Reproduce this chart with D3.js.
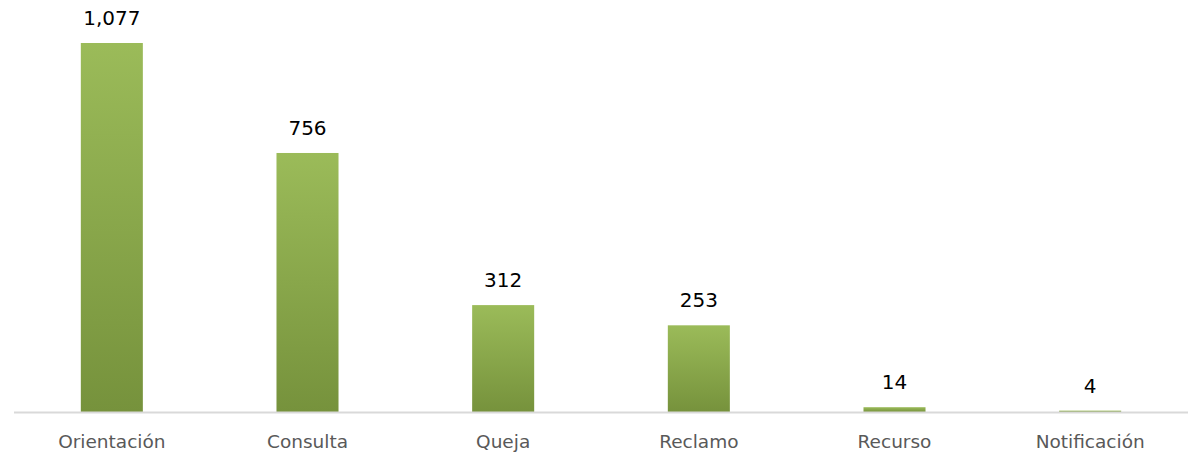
<!DOCTYPE html>
<html>
<head>
<meta charset="utf-8">
<script src="https://cdn.jsdelivr.net/npm/d3@7"></script>
<style>
  body { margin: 0; background: #fff; }
  svg text { font-family: "DejaVu Sans", sans-serif; }
</style>
</head>
<body>
<div id="chart"></div>
<script>
var categories = ["Orientación", "Consulta", "Queja", "Reclamo", "Recurso", "Notificación"];
var values = [1077, 756, 312, 253, 14, 4];

var w = 1196, h = 454;
var margin = {top: 43, right: 8, bottom: 42, left: 14};

var svg = d3.select("#chart").append("svg")
  .attr("width", w)
  .attr("height", h);

var defs = svg.append("defs");
var grad = defs.append("linearGradient")
  .attr("id", "barGrad")
  .attr("x1", 0).attr("y1", 0).attr("x2", 0).attr("y2", 1);
grad.append("stop").attr("offset", "0%").attr("stop-color", "#9bbb59");
grad.append("stop").attr("offset", "100%").attr("stop-color", "#76923c");

var x = d3.scaleBand()
  .domain(categories)
  .range([margin.left, w - margin.right])
  .paddingInner(0.683)
  .paddingOuter(0.3415);

var y = d3.scaleLinear()
  .domain([0, 1077])
  .range([h - margin.bottom, margin.top]);

var data = categories.map(function(c, i) { return {cat: c, val: values[i]}; });

svg.selectAll(".bar")
  .data(data)
  .enter()
  .append("rect")
  .attr("class", "bar")
  .attr("x", function(d) { return x(d.cat); })
  .attr("y", function(d) { return y(d.val); })
  .attr("width", x.bandwidth())
  .attr("height", function(d) { return y(0) - y(d.val); })
  .attr("fill", "url(#barGrad)");

// axis baseline
svg.append("line")
  .attr("x1", margin.left).attr("x2", w - margin.right)
  .attr("y1", y(0) + 0.5).attr("y2", y(0) + 0.5)
  .attr("stroke", "#d9d9d9")
  .attr("stroke-width", 2);

var fmt = d3.format(",");
svg.selectAll(".val")
  .data(data)
  .enter()
  .append("text")
  .attr("class", "val")
  .attr("x", function(d) { return x(d.cat) + x.bandwidth() / 2; })
  .attr("y", function(d) { return y(d.val) - 18; })
  .attr("text-anchor", "middle")
  .style("font-size", "20px")
  .style("fill", "#000")
  .text(function(d) { return fmt(d.val); });

svg.selectAll(".cat")
  .data(data)
  .enter()
  .append("text")
  .attr("class", "cat")
  .attr("x", function(d) { return x(d.cat) + x.bandwidth() / 2; })
  .attr("y", y(0) + 36)
  .attr("text-anchor", "middle")
  .style("font-size", "18.5px")
  .style("fill", "#595959")
  .text(function(d) { return d.cat; });
</script>
</body>
</html>
